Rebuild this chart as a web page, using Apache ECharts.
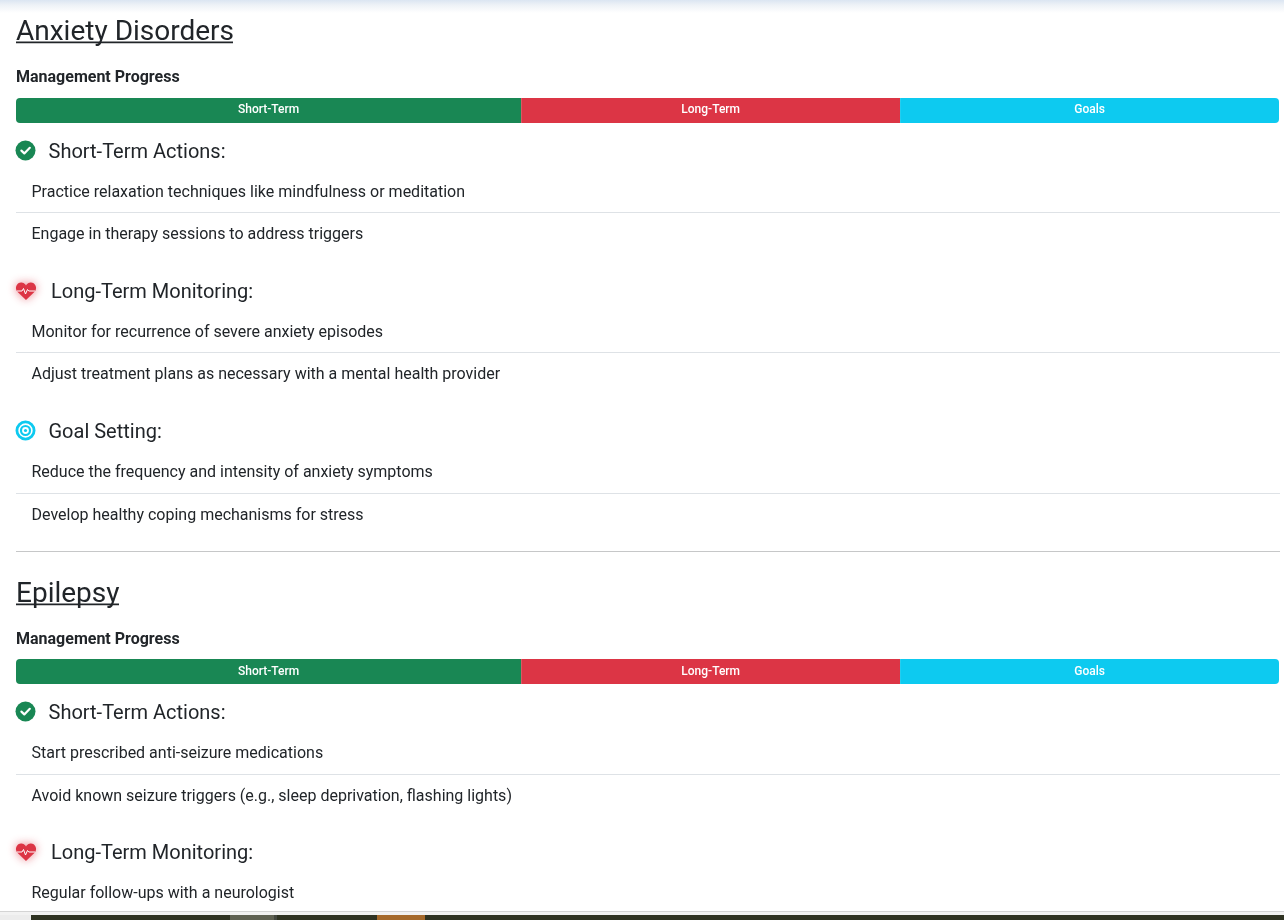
<!DOCTYPE html>
<html><head><meta charset="utf-8">
<style>html,body{margin:0;padding:0;background:#fff}#c{width:1284px;height:920px}</style>
<script src="https://cdn.jsdelivr.net/npm/echarts@6/dist/echarts.min.js"></script>
</head><body><div id="c"></div>
<script>
const segments = ['Short-Term','Long-Term','Goals'];
const shortTermShare = [40,40];
const longTermShare = [30,30];
const goalsShare = [30,30];
const segmentColors = ['#198754','#dc3545','#0dcaf0'];
const conditions = ['Anxiety Disorders','Epilepsy'];
const headings = ['Short-Term Actions:','Long-Term Monitoring:','Goal Setting:'];
const anxietyShort = ['Practice relaxation techniques like mindfulness or meditation','Engage in therapy sessions to address triggers'];
const anxietyLong = ['Monitor for recurrence of severe anxiety episodes','Adjust treatment plans as necessary with a mental health provider'];
const anxietyGoals = ['Reduce the frequency and intensity of anxiety symptoms','Develop healthy coping mechanisms for stress'];
const epilepsyShort = ['Start prescribed anti-seizure medications','Avoid known seizure triggers (e.g., sleep deprivation, flashing lights)'];
const epilepsyLong = ['Regular follow-ups with a neurologist'];

const FONT='Roboto', INK='#212529';
const g=[];
const txt=(t,x,y,size,weight)=>g.push({type:'text',x,y:y+(size>=20?4:2),silent:true,style:{text:t,fill:INK,font:`${weight||400} ${size}px ${FONT}`,textVerticalAlign:'middle',textBaseline:'middle'}});
const rule=(y,c)=>g.push({type:'rect',silent:true,shape:{x:16,y,width:1264,height:1},style:{fill:c}});
const check=(cy)=>{g.push({type:'circle',silent:true,shape:{cx:25.5,cy:cy-0.5,r:10},style:{fill:segmentColors[0]}});
 g.push({type:'polyline',silent:true,shape:{points:[[21.4,cy-0.4],[24.3,cy+2.4],[29.8,cy-3.2]]},style:{stroke:'#fff',lineWidth:2.2,fill:null,lineCap:'round',lineJoin:'round'}});};
const bez=(p0,p1,p2,p3,out)=>{for(let i=1;i<=10;i++){const t=i/10,u=1-t;out.push([
  u*u*u*p0[0]+3*u*u*t*p1[0]+3*u*t*t*p2[0]+t*t*t*p3[0],
  u*u*u*p0[1]+3*u*u*t*p1[1]+3*u*t*t*p2[1]+t*t*t*p3[1]]);}};
const heart=(cy)=>{const x=26,pts=[[x,cy+9],[x-8.6,cy+0.8]];
 bez([x-8.6,cy+0.8],[x-12,cy-3],[x-9,cy-8.5],[x-5,cy-8.5],pts);
 bez([x-5,cy-8.5],[x-2.8,cy-8.5],[x-1,cy-7.2],[x,cy-5.5],pts);
 bez([x,cy-5.5],[x+1,cy-7.2],[x+2.8,cy-8.5],[x+5,cy-8.5],pts);
 bez([x+5,cy-8.5],[x+9,cy-8.5],[x+12,cy-3],[x+8.6,cy+0.8],pts);
 g.push({type:'polygon',silent:true,shape:{points:pts},style:{fill:segmentColors[1],shadowBlur:10,shadowColor:'rgba(220,53,69,0.6)'}});
 g.push({type:'polyline',silent:true,shape:{points:[[x-9,cy],[x-4,cy],[x-2.5,cy-2.5],[x-0.5,cy+3],[x+1.5,cy-1.5],[x+2.8,cy],[x+9,cy]]},style:{stroke:'#fff',lineWidth:1,fill:null}});};
const target=(cy)=>{g.push({type:'circle',silent:true,shape:{cx:25.5,cy:cy-0.5,r:8.6},style:{fill:'#fff',stroke:segmentColors[2],lineWidth:2.8}});
 g.push({type:'circle',silent:true,shape:{cx:25.5,cy:cy-0.5,r:4.5},style:{fill:'#fff',stroke:segmentColors[2],lineWidth:2.2}});
 g.push({type:'circle',silent:true,shape:{cx:25.5,cy:cy-0.5,r:1.6},style:{fill:segmentColors[2]}});};

// top shadow
g.push({type:'rect',silent:true,shape:{x:0,y:0,width:1284,height:13},style:{fill:new echarts.graphic.LinearGradient(0,0,0,1,[{offset:0,color:'#dbe5f2'},{offset:0.4,color:'#eef2f7'},{offset:1,color:'#ffffff'}])}});

// Anxiety
txt(conditions[0],16,29,28); g.push({type:'rect',silent:true,shape:{x:16,y:41.5,width:217,height:1.8},style:{fill:INK}});
txt('Management Progress',16,76,16,700);
check(151); txt(headings[0],48.5,149,20);
txt(anxietyShort[0],31.5,191,16); rule(212,'#dee2e6'); txt(anxietyShort[1],31.5,233,16);
heart(291); txt(headings[1],51,289,20);
txt(anxietyLong[0],31.5,331,16); rule(352,'#dee2e6'); txt(anxietyLong[1],31.5,373,16);
target(431); txt(headings[2],48.5,429,20);
txt(anxietyGoals[0],31.5,471,16); rule(493,'#dee2e6'); txt(anxietyGoals[1],31.5,514,16);
rule(551,'#c6c7c8');
// Epilepsy
txt(conditions[1],16,591,28); g.push({type:'rect',silent:true,shape:{x:16,y:603.5,width:103,height:1.8},style:{fill:INK}});
txt('Management Progress',16,638,16,700);
check(712); txt(headings[0],48.5,710,20);
txt(epilepsyShort[0],31.5,752,16); rule(774,'#dee2e6'); txt(epilepsyShort[1],31.5,795,16);
heart(852); txt(headings[1],51,850,20);
txt(epilepsyLong[0],31.5,892,16);
// bottom strip
g.push({type:'rect',silent:true,shape:{x:0,y:911,width:1284,height:1},style:{fill:'#d4d4d4'}});
g.push({type:'rect',silent:true,shape:{x:0,y:912,width:1284,height:3},style:{fill:'#f2f2f2'}});
g.push({type:'rect',silent:true,shape:{x:0,y:915,width:31,height:5},style:{fill:'#ececec'}});
g.push({type:'rect',silent:true,shape:{x:31,y:915,width:1253,height:5},style:{fill:'#2f3322'}});
g.push({type:'rect',silent:true,shape:{x:230,y:915,width:44,height:5},style:{fill:'#5f6152'}});
g.push({type:'rect',silent:true,shape:{x:274,y:915,width:3,height:5},style:{fill:'#44473f'}});
g.push({type:'rect',silent:true,shape:{x:377,y:915,width:48,height:5},style:{fill:'#a5692b'}});

const tops=[98,659];
const labelShift=[-1,0];
const grid=tops.map(top=>({left:16,top,width:1263,height:25,containLabel:false}));
const xAxis=tops.map((_,i)=>({type:'value',gridIndex:i,min:0,max:100,show:false}));
const yAxis=tops.map((_,i)=>({type:'category',gridIndex:i,data:[conditions[i]],show:false}));
const series=[];
const shares=[shortTermShare,longTermShare,goalsShare];
const radii=[[4,0,0,4],0,[0,4,4,0]];
tops.forEach((_,i)=>segments.forEach((s,k)=>series.push({
 type:'bar',name:s,xAxisIndex:i,yAxisIndex:i,stack:'p'+i,barWidth:25,silent:true,
 data:[shares[k][i]],itemStyle:{color:segmentColors[k],borderRadius:radii[k]},
 label:{show:true,position:'inside',offset:[0,labelShift[i]],formatter:s,color:'#fff',fontFamily:FONT,fontSize:12,fontWeight:500}
})));
const chart=echarts.init(document.getElementById('c'));
chart.setOption({animation:false,backgroundColor:'#fff',grid,xAxis,yAxis,series,graphic:{elements:g}});
</script></body></html>
